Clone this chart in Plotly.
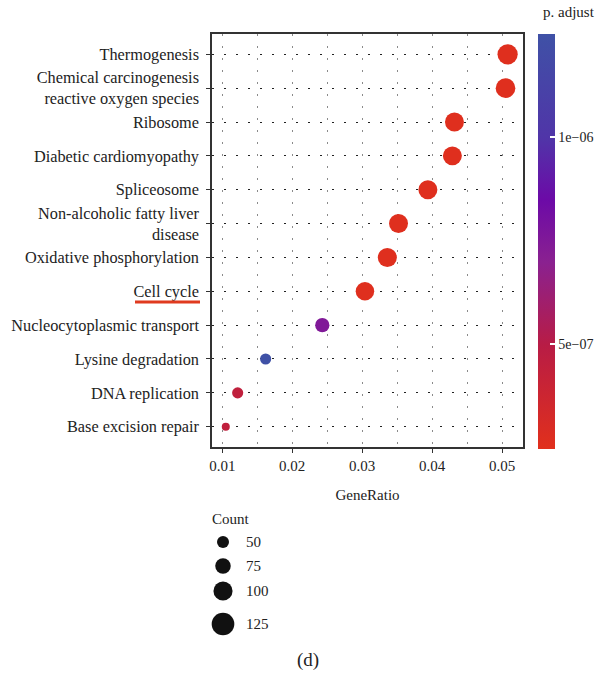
import plotly.graph_objects as go

# ---------------- data ----------------
pathways = [
    "Thermogenesis",
    "Chemical carcinogenesis<br>reactive oxygen species",
    "Ribosome",
    "Diabetic cardiomyopathy",
    "Spliceosome",
    "Non-alcoholic fatty liver<br>disease",
    "Oxidative phosphorylation",
    "Cell cycle",
    "Nucleocytoplasmic transport",
    "Lysine degradation",
    "DNA replication",
    "Base excision repair",
]
gene_ratio = [0.0508, 0.0505, 0.0432, 0.0429, 0.0394, 0.0352, 0.0336, 0.0304,
              0.0243, 0.0162, 0.0122, 0.0105]
counts = [108, 104, 99, 99, 99, 99, 100, 96, 66, 44, 44, 22]
p_adjust = [2.6e-7, 2.6e-7, 2.6e-7, 2.6e-7, 2.6e-7, 2.6e-7, 2.6e-7, 2.6e-7,
            7.5e-7, 1.25e-6, 4.5e-7, 4.5e-7]

legend_counts = [50, 75, 100, 125]
legend_labels = ["50", "75", "100", "125"]
x_ticks = [0.01, 0.02, 0.03, 0.04, 0.05]
cb_ticks = [5e-7, 1e-6]
cb_ticktext = ["5e\u221207", "1e\u221206"]

# ---------------- styling ----------------
FONT = "Liberation Serif"
W, H = 612, 673
L, R, T, B = 212, 89, 34, 10
plot_w = W - L - R
plot_h = H - T - B
main_bottom_px = 447


def diam(c):
    return 12 + (c - 50) * 0.142


def px_x(px):
    return (px - L) / plot_w


def px_y(py):
    return (H - B - py) / plot_h


colorscale = [
    [0.0, "#E1301C"],
    [0.25, "#B81C45"],
    [0.45, "#8A2190"],
    [0.6, "#6C0AA7"],
    [0.75, "#5035A8"],
    [1.0, "#3F51A6"],
]

fig = go.Figure()

fig.add_trace(go.Scatter(
    x=gene_ratio, y=pathways, mode="markers",
    marker=dict(
        size=[diam(c) for c in counts], sizemode="diameter",
        color=p_adjust, colorscale=colorscale, cmin=2.45e-7, cmax=1.25e-6,
        line=dict(width=0), opacity=1,
        colorbar=dict(
            x=px_x(538), xanchor="left", xpad=0, ypad=0,
            y=1, yanchor="top",
            thickness=17, thicknessmode="pixels",
            len=415, lenmode="pixels",
            outlinewidth=0,
            tickvals=cb_ticks, ticktext=cb_ticktext,
            ticks="inside", ticklen=5, tickcolor="white", tickwidth=1.5,
            tickfont=dict(family=FONT, size=14, color="#222"),
        ),
    ),
    showlegend=False, hoverinfo="skip", cliponaxis=False,
    xaxis="x", yaxis="y",
))

# size legend (manual, drawn on an invisible pixel-scaled axis)
legend_y_px = [542, 566, 591, 624]
fig.add_trace(go.Scatter(
    x=[223] * len(legend_counts), y=legend_y_px, mode="markers",
    marker=dict(size=[diam(c) for c in legend_counts], sizemode="diameter",
                color="#111111", opacity=1, line=dict(width=0)),
    showlegend=False, hoverinfo="skip", cliponaxis=False,
    xaxis="x2", yaxis="y2",
))

annotations = []
for lab, yp in zip(legend_labels, legend_y_px):
    annotations.append(dict(x=244, y=yp, xref="x2", yref="y2", text=lab,
                            showarrow=False, xanchor="left", yanchor="middle",
                            font=dict(family=FONT, size=15, color="#222")))
annotations.append(dict(x=px_x(210), y=px_y(519), xref="paper", yref="paper",
                        text="Count", showarrow=False, xanchor="left",
                        yanchor="middle",
                        font=dict(family=FONT, size=15, color="#222")))
annotations.append(dict(x=308, y=660, xref="x2", yref="y2", text="(d)",
                        showarrow=False, xanchor="center", yanchor="middle",
                        font=dict(family=FONT, size=19, color="#222")))
annotations.append(dict(x=px_x(541), y=px_y(12), xref="paper", yref="paper",
                        text="p. adjust", showarrow=False, xanchor="left",
                        yanchor="middle",
                        font=dict(family=FONT, size=15, color="#222")))

shapes = [dict(type="line", xref="paper", yref="paper",
               x0=px_x(135), x1=px_x(200), y0=px_y(302), y1=px_y(302),
               line=dict(color="#E03A1F", width=3))]

fig.update_layout(
    width=W, height=H,
    margin=dict(l=L, r=R, t=T, b=B),
    paper_bgcolor="white", plot_bgcolor="white",
    font=dict(family=FONT, size=15, color="#222"),
    xaxis=dict(
        domain=[0, 1], anchor="y",
        range=[0.00853, 0.0530], tickvals=x_ticks,
        ticktext=[f"{v:.2f}" for v in x_ticks],
        showgrid=True, gridcolor="#8a8a8a", gridwidth=1, griddash="2px,10px",
        minor=dict(dtick=0.005, tick0=0.005, showgrid=True, gridcolor="#8a8a8a",
                   gridwidth=1, griddash="2px,10px", ticks=""),
        showline=True, linecolor="#333", linewidth=1.5, mirror=True,
        ticks="outside", ticklen=4, tickcolor="#333", tickwidth=1.2,
        tickfont=dict(family=FONT, size=15, color="#222"),
        title=dict(text="GeneRatio", standoff=17,
                   font=dict(family=FONT, size=15, color="#222")),
        zeroline=False,
    ),
    yaxis=dict(
        domain=[px_y(main_bottom_px), 1], anchor="x",
        type="category", categoryorder="array",
        categoryarray=list(reversed(pathways)),
        range=[-0.6, len(pathways) - 0.4],
        showgrid=True, gridcolor="#222", gridwidth=1, griddash="2px,10px",
        showline=True, linecolor="#333", linewidth=1.5, mirror=True,
        ticks="outside", ticklen=4, tickcolor="#333", tickwidth=1.2,
        ticklabelstandoff=4,
        tickfont=dict(family=FONT, size=16.3, color="#222"),
        zeroline=False,
    ),
    xaxis2=dict(domain=[0, 1], anchor="y2", range=[L, W - R], visible=False,
                fixedrange=True),
    yaxis2=dict(domain=[0, px_y(main_bottom_px) - 0.0001], anchor="x2",
                range=[H - B, main_bottom_px], visible=False, fixedrange=True),
    annotations=annotations,
    shapes=shapes,
)

fig.write_html("out.html")
